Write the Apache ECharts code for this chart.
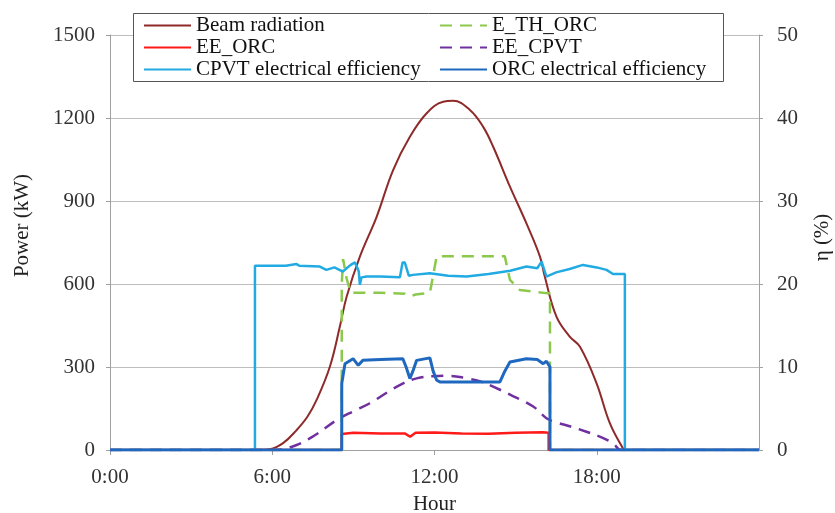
<!DOCTYPE html>
<html>
<head>
<meta charset="utf-8">
<script src="https://cdn.jsdelivr.net/npm/echarts@6/dist/echarts.min.js"></script>
<style>
  html, body { margin: 0; padding: 0; background: #fff; }
  #chart { width: 835px; height: 513px; }
</style>
</head>
<body>
<div id="chart"></div>
<script>
// hour of day -> value
var beamHours = [0, 5.47, 5.91, 6.4, 6.9, 7.3, 7.64, 8.13, 8.5, 8.75, 9.24, 9.86, 10.47, 11.09, 11.71, 12.32, 12.69, 13.31, 13.8, 14.17, 14.79, 15.4, 15.9, 16.08, 16.51, 17.0, 17.38, 17.99, 18.48, 18.96, 19.04, 24];
var beamKW = [0, 0, 3, 25, 72, 120, 181, 301, 446, 554, 699, 843, 1012, 1132, 1217, 1259, 1262, 1229, 1168, 1096, 952, 819, 699, 626, 482, 410, 373, 242, 98, 7, 0, 0];

var eeOrcHours = [0, 8.57, 8.57, 9.0, 10.0, 10.9, 11.1, 11.3, 12.0, 13.0, 14.0, 15.0, 16.0, 16.22, 16.22, 24];
var eeOrcKW = [0, 0, 58, 62, 60, 60, 48, 62, 63, 60, 59, 62, 64, 62, 0, 0];

var cpvtEffHours = [0, 5.36, 5.36, 6.5, 6.9, 7.0, 7.76, 8.0, 8.3, 8.61, 8.9, 9.06, 9.2, 9.24, 9.3, 9.49, 10.0, 10.72, 10.82, 10.9, 11.05, 11.2, 11.83, 12.5, 13.19, 14.0, 14.8, 15.4, 15.8, 15.96, 16.14, 16.5, 17.0, 17.49, 18.0, 18.36, 18.6, 19.04, 19.04, 24];
var cpvtEffPct = [0, 0, 22.2, 22.2, 22.4, 22.2, 22.1, 21.7, 22.0, 21.5, 22.3, 22.6, 21.5, 19.9, 20.8, 20.9, 20.9, 20.8, 22.6, 22.6, 21.0, 21.1, 21.3, 21.0, 20.9, 21.2, 21.6, 22.1, 21.9, 22.7, 20.9, 21.4, 21.8, 22.3, 22.0, 21.7, 21.2, 21.2, 0, 0];

var ethOrcHours = [0, 8.57, 8.57, 8.62, 8.75, 8.9, 10.0, 10.9, 11.09, 11.3, 11.83, 12.08, 14.6, 14.79, 15.16, 16.14, 16.27, 16.27, 24];
var ethOrcKW = [0, 0, 600, 690, 620, 568, 568, 565, 555, 562, 568, 700, 700, 615, 578, 567, 567, 0, 0];

var eeCpvtHours = [0, 6.1, 6.9, 7.6, 8.38, 9.0, 9.61, 10.2, 10.84, 11.34, 11.94, 12.57, 13.19, 13.7, 14.17, 14.9, 15.65, 16.14, 16.5, 17.0, 17.62, 18.2, 18.61, 18.9, 24];
var eeCpvtKW = [0, 0, 18, 55, 108, 140, 169, 205, 241, 259, 267, 268, 259, 248, 229, 195, 157, 115, 100, 86, 66, 45, 24, 0, 0];

var orcEffHours = [0, 8.57, 8.57, 8.69, 8.99, 9.18, 9.35, 10.0, 10.83, 10.95, 11.09, 11.2, 11.34, 11.83, 11.95, 12.08, 12.2, 14.42, 14.6, 14.79, 15.4, 15.8, 16.02, 16.14, 16.27, 16.27, 24];
var orcEffPct = [0, 0, 8.0, 10.4, 11.0, 10.2, 10.8, 10.9, 11.0, 10.0, 8.6, 9.5, 10.8, 11.1, 9.5, 8.4, 8.2, 8.2, 9.5, 10.6, 11.0, 10.9, 10.4, 10.7, 10.0, 0, 0];

var hourTicks = [0, 6, 12, 18];

function pairs(xs, ys) {
  var out = [];
  for (var i = 0; i < xs.length; i++) out.push([xs[i], ys[i]]);
  return out;
}

var serif = 'Liberation Serif';
var labelStyle = { fontFamily: serif, fontSize: 21, color: '#333' };
var legendBase = {
  z: 20, orient: 'vertical', top: 15, padding: 0,
  itemGap: 1, itemWidth: 47, itemHeight: 14,
  itemStyle: { opacity: 0 },
  textStyle: { fontFamily: serif, fontSize: 21, color: '#111', lineHeight: 21 }
};

var chart = echarts.init(document.getElementById('chart'));
chart.setOption({
  animation: false,
  backgroundColor: '#fff',
  grid: { left: 110, right: 76, top: 35, bottom: 63, containLabel: false, outerBoundsMode: 'none' },
  graphic: [{
    type: 'rect', z: 10,
    shape: { x: 133.5, y: 13.5, width: 590, height: 68 },
    style: { fill: '#fff', stroke: '#555', lineWidth: 1 }
  }],
  legend: [
    Object.assign({ left: 143, data: ['Beam radiation', 'EE_ORC', 'CPVT electrical efficiency'] }, legendBase),
    Object.assign({ left: 439, data: ['E_TH_ORC', 'EE_CPVT', 'ORC electrical efficiency'] }, legendBase)
  ],
  xAxis: {
    type: 'value', min: 0, max: 24, interval: 6,
    name: 'Hour', nameLocation: 'middle', nameGap: 44,
    nameTextStyle: { fontFamily: serif, fontSize: 21, color: '#222' },
    axisLine: { show: true, lineStyle: { color: '#a0a0a0' } },
    axisTick: { show: true, length: 5, lineStyle: { color: '#a0a0a0' } },
    splitLine: { show: false },
    axisLabel: Object.assign({
      margin: 17, showMaxLabel: false,
      formatter: function (v) { return hourTicks.indexOf(v) >= 0 ? v + ':00' : ''; }
    }, labelStyle)
  },
  yAxis: [{
    type: 'value', min: 0, max: 1500, interval: 300, position: 'left',
    name: 'Power (kW)', nameLocation: 'middle', nameGap: 77, nameRotate: 90,
    nameTextStyle: { fontFamily: serif, fontSize: 21, color: '#222', padding: [0, 0, 0, 34] },
    axisLine: { show: true, lineStyle: { color: '#a0a0a0' } },
    axisTick: { show: true, length: 4, lineStyle: { color: '#a0a0a0' } },
    splitLine: { show: true, lineStyle: { color: '#bdbdbd' } },
    axisLabel: Object.assign({ margin: 15, formatter: function (v) { return String(v); } }, labelStyle)
  }, {
    type: 'value', min: 0, max: 50, interval: 10, position: 'right',
    name: 'η (%)', nameLocation: 'middle', nameGap: 53, nameRotate: 90,
    nameTextStyle: { fontFamily: serif, fontSize: 21, color: '#222', padding: [0, 0, 0, 10] },
    axisLine: { show: true, lineStyle: { color: '#a0a0a0' } },
    axisTick: { show: true, length: 4, lineStyle: { color: '#a0a0a0' } },
    splitLine: { show: false },
    axisLabel: Object.assign({ margin: 18 }, labelStyle)
  }],
  series: [{
    name: 'Beam radiation', type: 'line', yAxisIndex: 0, symbol: 'none',
    smooth: 0.4,
    lineStyle: { color: '#8e2a2a', width: 2 }, itemStyle: { color: '#8e2a2a' },
    data: pairs(beamHours, beamKW)
  }, {
    name: 'E_TH_ORC', type: 'line', yAxisIndex: 0, symbol: 'none',
    lineStyle: { color: '#8cc84b', width: 2.5, type: [12, 8] }, itemStyle: { color: '#8cc84b' },
    data: pairs(ethOrcHours, ethOrcKW)
  }, {
    name: 'EE_ORC', type: 'line', yAxisIndex: 0, symbol: 'none',
    lineStyle: { color: '#ff1a1a', width: 2.5 }, itemStyle: { color: '#ff1a1a' },
    data: pairs(eeOrcHours, eeOrcKW)
  }, {
    name: 'EE_CPVT', type: 'line', yAxisIndex: 0, symbol: 'none',
    smooth: 0.4,
    lineStyle: { color: '#7030a0', width: 2.5, type: [12, 8] }, itemStyle: { color: '#7030a0' },
    data: pairs(eeCpvtHours, eeCpvtKW)
  }, {
    name: 'CPVT electrical efficiency', type: 'line', yAxisIndex: 1, symbol: 'none',
    lineStyle: { color: '#22aae2', width: 2.5 }, itemStyle: { color: '#22aae2' },
    data: pairs(cpvtEffHours, cpvtEffPct)
  }, {
    name: 'ORC electrical efficiency', type: 'line', yAxisIndex: 1, symbol: 'none',
    lineStyle: { color: '#1f68bf', width: 3 }, itemStyle: { color: '#1f68bf' },
    data: pairs(orcEffHours, orcEffPct)
  }]
});
</script>
</body>
</html>
